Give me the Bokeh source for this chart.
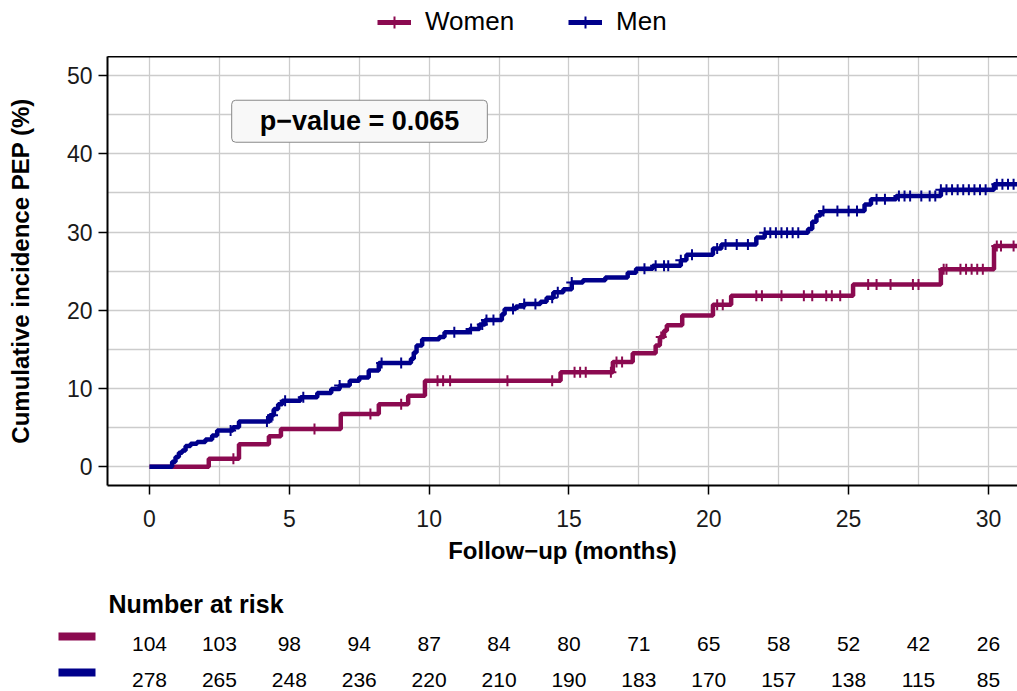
import numpy as np
from bokeh.plotting import figure
from bokeh.models import Range1d, FixedTicker, Legend, LegendItem, Label, LinearAxis
from bokeh.layouts import column
from bokeh.embed import file_html
from bokeh.resources import INLINE
from bokeh.core.properties import value

# ---------------- data ----------------
women_t = [0, 2.12, 3.2, 4.27, 4.7, 6.84, 8.2, 9.25, 9.85, 14.7, 16.57, 17.28,
           18.1, 18.25, 18.4, 18.5, 19.05, 20.15, 20.8, 25.16, 28.3, 30.2, 31.2]
women_v = [0, 1.05, 2.9, 3.9, 4.85, 6.76, 8.0, 9.1, 11.0, 12.1, 13.4, 14.5,
           15.5, 16.6, 17.4, 18.1, 19.35, 20.7, 21.85, 23.3, 25.25, 28.2, 28.2]

men_t = [0, 0.81, 0.93, 1.05, 1.17, 1.29, 1.47, 1.7, 2.0, 2.24, 2.42, 2.98, 3.2,
         4.3, 4.45, 4.6, 4.75, 5.4, 6.0, 6.5, 6.8, 7.16, 7.5, 7.84, 8.2, 9.35,
         9.45, 9.55, 9.75, 10.36, 10.55, 11.45, 11.8, 12.0, 12.6, 12.7, 13.1,
         13.4, 13.98, 14.2, 14.45, 14.8, 15.1, 15.5, 16.3, 17.1, 17.4, 18.0,
         19.0, 19.2, 20.15, 20.45, 21.7, 22.0, 23.55, 23.7, 23.85, 24.0, 24.1,
         25.57, 25.8, 26.7, 28.3, 30.2, 31.2]
men_v = [0, 0.64, 1.27, 1.8, 2.1, 2.67, 2.96, 3.17, 3.5, 4.0, 4.66, 5.05, 5.8,
         6.6, 7.4, 8.0, 8.46, 8.9, 9.44, 9.95, 10.4, 11.0, 11.4, 12.3, 13.26, 13.8,
         14.6, 15.5, 16.3, 16.6, 17.2, 17.6, 18.2, 18.75, 19.5, 20.15, 20.5,
         20.8, 21.1, 21.6, 22.3, 22.7, 23.56, 23.85, 24.2, 24.8, 25.3, 25.7,
         26.4, 27.1, 27.9, 28.4, 29.3, 29.9, 30.4, 31.3, 32.1, 32.5, 32.7,
         33.5, 34.2, 34.6, 35.4, 36.1, 36.1]

women_censor = [3.0, 5.9, 7.9, 9.0, 10.3, 10.5, 10.75, 12.8, 14.4, 15.2, 15.4,
                15.6, 16.5, 16.7, 16.9, 18.3, 20.3, 20.5, 21.7, 21.9, 22.6, 23.4,
                23.7, 24.2, 24.4, 24.7, 25.7, 26.0, 26.5, 27.3, 27.5, 28.4, 28.5,
                29.0, 29.2, 29.4, 29.6, 29.8, 30.3, 30.45, 30.9]
men_censor = [2.9, 4.2, 4.4, 4.85, 5.5, 6.8, 8.3, 9.0, 10.9, 11.5, 11.9, 12.05,
              12.3, 13.0, 13.4, 13.8, 14.4, 14.6, 15.1, 17.7, 18.1, 18.4, 18.55,
              19.0, 19.4, 20.3, 20.6, 21.0, 21.4, 22.0, 22.2, 22.4, 22.6, 22.8,
              23.0, 23.2, 24.1, 24.6, 25.0, 25.3, 26.0, 26.3, 26.8, 27.0, 27.2,
              27.6, 27.9, 28.1, 28.3, 28.5, 28.7, 28.9, 29.1, 29.3, 29.5, 29.7,
              29.9, 30.3, 30.5, 30.7, 30.9]

risk_times = [0, 2.5, 5, 7.5, 10, 12.5, 15, 17.5, 20, 22.5, 25, 27.5, 30]
risk_women = [104, 103, 98, 94, 87, 84, 80, 71, 65, 58, 52, 42, 26]
risk_men = [278, 265, 248, 236, 220, 210, 190, 183, 170, 157, 138, 115, 85]

x_ticks = [0, 5, 10, 15, 20, 25, 30]
x_minor = [2.5, 7.5, 12.5, 17.5, 22.5, 27.5]
y_ticks = [0, 10, 20, 30, 40, 50]
y_minor = [5, 15, 25, 35, 45]

series_names = ["Women", "Men"]
p_value_text = "p\u2212value = 0.065"

WOMEN_COLOR = "#8B0A50"
MEN_COLOR = "#00008B"
FONT = "Liberation Sans"
GRID = "#cccccc"


def curve_at(ts, vs, cs):
    ts = np.asarray(ts)
    vs = np.asarray(vs)
    idx = np.searchsorted(ts, np.asarray(cs), side="right") - 1
    return vs[idx]


def no_align(fig):
    if "frame_align" in fig.properties():
        fig.frame_align = False


W = 1017
FRAME_LEFT = 107
LEG_H = 56
MAIN_H = 566 - LEG_H
RISK_H = 691 - 566
X0, X1 = -1.502, 31.04
PPU = (W - FRAME_LEFT) / (X1 - X0)
XF0 = X0 - FRAME_LEFT / PPU   # data x at the very left edge of the page

# ---------------- legend strip ----------------
lf = figure(width=W, height=LEG_H, x_range=Range1d(XF0, X1), y_range=Range1d(LEG_H, 0),
            output_backend="svg", toolbar_location=None, min_border=0,
            min_border_left=0, min_border_right=0, min_border_top=0, min_border_bottom=0,
            x_axis_location=None, y_axis_location=None)
no_align(lf)
lf.grid.visible = False
lf.outline_line_color = None
# legend-only renderers: drawn against an off-screen range so only their legend glyphs show
lf.extra_y_ranges = {"legend_only": Range1d(1000, 2000)}
lw = lf.step(women_t, women_v, mode="after", line_width=5, color=WOMEN_COLOR,
             y_range_name="legend_only")
lws = lf.scatter(women_censor, curve_at(women_t, women_v, women_censor), marker="cross",
                 size=11, line_width=2, color=WOMEN_COLOR, y_range_name="legend_only")
lm = lf.step(men_t, men_v, mode="after", line_width=5, color=MEN_COLOR,
             y_range_name="legend_only")
lms = lf.scatter(men_censor, curve_at(men_t, men_v, men_censor), marker="cross",
                 size=11, line_width=2, color=MEN_COLOR, y_range_name="legend_only")
legend = Legend(items=[LegendItem(label=series_names[0], renderers=[lw, lws]),
                       LegendItem(label=series_names[1], renderers=[lm, lms])],
                location=(377, 19), orientation="horizontal",
                glyph_width=34, glyph_height=30, label_standoff=14, spacing=54,
                label_height=30, label_width=0,
                padding=0, margin=0, border_line_color=None, background_fill_alpha=0,
                label_text_font=FONT, label_text_font_size="26px",
                label_text_color="black", label_text_baseline="middle")
lf.add_layout(legend)

# ---------------- main plot ----------------
p = figure(width=W, height=MAIN_H, x_range=Range1d(X0, X1), y_range=Range1d(-2.38, 52.42),
           output_backend="svg", toolbar_location=None,
           min_border_left=FRAME_LEFT, min_border_right=0,
           min_border_top=0, min_border_bottom=MAIN_H - (487 - LEG_H))
no_align(p)
p.outline_line_color = None
p.background_fill_color = "white"

xa = p.below[0]
ya = p.left[0]
xa.ticker = FixedTicker(ticks=x_ticks, minor_ticks=x_minor)
ya.ticker = FixedTicker(ticks=y_ticks, minor_ticks=y_minor)
p.xgrid.ticker = FixedTicker(ticks=x_ticks, minor_ticks=x_minor)
p.ygrid.ticker = FixedTicker(ticks=y_ticks, minor_ticks=y_minor)
for g in (p.xgrid, p.ygrid):
    g.grid_line_color = GRID
    g.grid_line_width = 1.3
    g.minor_grid_line_color = GRID
    g.minor_grid_line_width = 1.3

for ax in (xa, ya):
    ax.axis_line_color = "black"
    ax.axis_line_width = 2
    ax.major_tick_line_color = "black"
    ax.major_tick_line_width = 1.5
    ax.major_tick_out = 9
    ax.major_tick_in = 0
    ax.minor_tick_out = 0
    ax.minor_tick_in = 0
    ax.major_label_text_font = FONT
    ax.major_label_text_font_size = "23px"
    ax.major_label_text_color = "#1a1a1a"
    ax.axis_label_text_font = FONT
    ax.axis_label_text_font_size = "24px"
    ax.axis_label_text_font_style = "bold"
    ax.axis_label_text_color = "black"

xa.axis_label = "Follow\u2212up (months)"
xa.major_label_standoff = 15
xa.axis_label_standoff = 7
ya.axis_label = "Cumulative incidence PEP (%)"
ya.major_label_standoff = 6
ya.axis_label_standoff = 30

top_axis = LinearAxis(ticker=FixedTicker(ticks=[]), axis_line_color="black", axis_line_width=2,
                      major_tick_out=0, major_tick_in=0, minor_tick_out=0, minor_tick_in=0,
                      major_label_standoff=0, major_label_text_font_size="0px")
p.add_layout(top_axis, "above")

p.step(women_t, women_v, mode="after", line_width=4.5, color=WOMEN_COLOR)
p.scatter(women_censor, curve_at(women_t, women_v, women_censor), marker="cross",
          size=11, line_width=2, color=WOMEN_COLOR)
p.step(men_t, men_v, mode="after", line_width=4.5, color=MEN_COLOR)
p.scatter(men_censor, curve_at(men_t, men_v, men_censor), marker="cross",
          size=11, line_width=2, color=MEN_COLOR)

pv = Label(x=7.51, y=44.15, text=p_value_text, text_align="center", text_baseline="middle",
           text_font=FONT, text_font_size="27px", text_font_style="bold", text_color="black",
           background_fill_color="#f8f8f8", border_line_color="#888888", border_line_width=1,
           padding=dict(left=28, right=28, top=6, bottom=6), border_radius=4)
p.add_layout(pv)

# ---------------- risk table ----------------
r = figure(width=W, height=RISK_H, x_range=Range1d(XF0, X1), y_range=Range1d(RISK_H, 0),
           output_backend="svg", toolbar_location=None, min_border=0,
           min_border_left=0, min_border_right=0, min_border_top=0, min_border_bottom=0,
           x_axis_location=None, y_axis_location=None)
no_align(r)
r.grid.visible = False
r.outline_line_color = None

r.text(x=[X0 + 1 / PPU], y=[37], text=["Number at risk"], text_align="left",
       text_baseline="middle", text_font=value(FONT), text_font_size="25px",
       text_font_style="bold", text_color="black")

sw_left = XF0 + 58 / PPU
sw_right = XF0 + 95 / PPU
rows = [(risk_women, WOMEN_COLOR, 77), (risk_men, MEN_COLOR, 113)]
for vals, col, yy in rows:
    r.text(x=risk_times, y=[yy] * len(risk_times), text=[str(v) for v in vals],
           text_align="center", text_baseline="middle", text_font=value(FONT),
           text_font_size="21px", text_color="black")
    r.quad(left=[sw_left], right=[sw_right], top=[yy - 11], bottom=[yy - 3],
           color=col, line_color=None)

layout = column(lf, p, r, spacing=0)
open("out.html", "w").write(file_html(layout, INLINE))
